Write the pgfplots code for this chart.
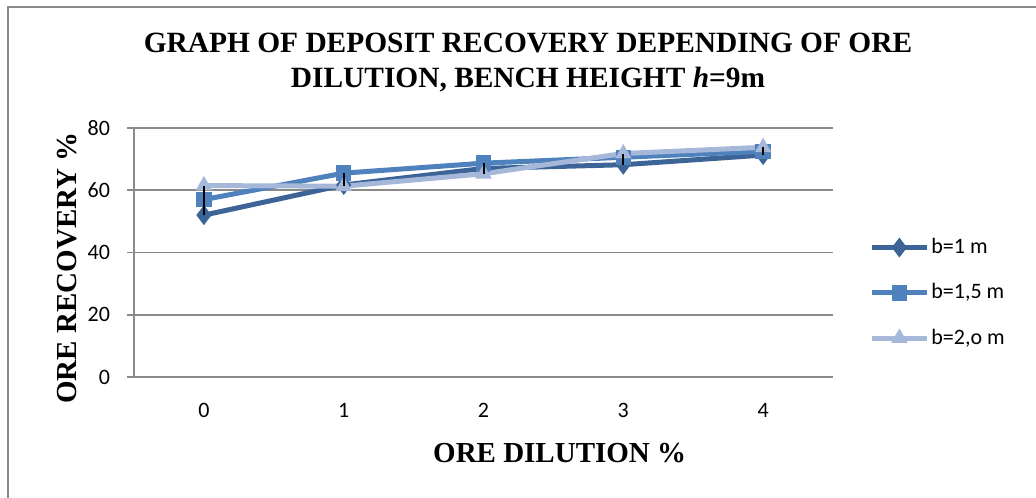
\documentclass[border=0pt]{standalone}
\usepackage{fontspec}
\setmainfont{Liberation Serif}
\newfontfamily\calfont{Carlito}
\usepackage{pgfplots}
\pgfplotsset{compat=1.18}
\definecolor{sA}{HTML}{3C6497}
\definecolor{sB}{HTML}{4F81BD}
\definecolor{sC}{HTML}{A5B8DA}
\definecolor{gridc}{HTML}{8A8A8A}
\begin{document}
\begin{tikzpicture}
\useasboundingbox (-67pt,-60pt) rectangle (451pt,188.5pt);
\draw[gridc, line width=1pt] (-63pt,-61pt) -- (-63pt,185pt) -- (452pt,185pt);
\begin{axis}[
  at={(0,0)}, anchor=south west,
  scale only axis, width=349.5pt, height=124.5pt,
  xmin=-0.5, xmax=4.5, ymin=0, ymax=80,
  xtick={0,1,2,3,4}, ytick={0,20,40,60,80},
  axis x line*=bottom, axis y line*=left,
  axis line style={gridc, line width=0.9pt, -},
  ymajorgrids, grid style={gridc, line width=0.9pt},
  x tick style={draw=none}, y tick style={gridc, line width=0.9pt},
  tick align=outside, major tick length=3.5pt,
  ticklabel style={font=\calfont\fontsize{11}{13}\selectfont},
  /pgf/number format/assume math mode=true,
  yticklabel style={xshift=-5pt},
  xticklabel style={yshift=-6pt},
  xlabel={\fontsize{14.5}{16}\selectfont\bfseries ORE DILUTION \%},
  ylabel={\fontsize{14.5}{16}\selectfont\bfseries ORE RECOVERY \%},
  xlabel style={at={(axis description cs:0.609,-0.305)}, anchor=center},
  ylabel style={at={(axis description cs:-0.0959,0.438)}, anchor=center},
  clip=false,
  legend style={at={(367.5pt,65pt)}, anchor=north west, draw=none, fill=none,
    font=\calfont\fontsize{11}{13}\selectfont, row sep=11.5pt, inner sep=0pt,
    nodes={inner sep=1pt, anchor=west}, yshift=5.5pt},
  legend cell align=left,
  legend image code/.code={\draw[mark repeat=2,mark phase=2,#1] plot coordinates {(0pt,0pt) (13.75pt,0pt) (27.5pt,0pt)};},
]
\addplot[sA, line width=2.5pt, mark=diamond*, mark size=4.6pt, mark options={solid, line width=0.5pt}] coordinates {(0,52) (1,61.7) (2,67) (3,68.2) (4,71.3)};
\addlegendentry{b=1 m}
\addplot[sB, line width=2.5pt, mark=square*, mark size=3.6pt, mark options={solid, line width=0.5pt}] coordinates {(0,57) (1,65.5) (2,68.7) (3,70.6) (4,72.5)};
\addlegendentry{b=1,5 m}
\addplot[sC, line width=2.5pt, mark=triangle*, mark size=4.3pt, mark options={solid, line width=0.5pt}] coordinates {(0,61.5) (1,61.3) (2,65.3) (3,71.8) (4,73.8)};
\addlegendentry{b=2,o m}
\node[align=center, font=\fontsize{14.7}{17.5}\selectfont\bfseries] at (197pt,157.25pt) {GRAPH OF DEPOSIT RECOVERY DEPENDING OF ORE\\DILUTION, BENCH HEIGHT \textit{h}=9m};
\end{axis}
\begin{axis}[
  at={(0,0)}, anchor=south west,
  scale only axis, width=349.5pt, height=124.5pt,
  xmin=-0.5, xmax=4.5, ymin=0, ymax=80,
  hide axis, clip=false,
  hl/.style={black, line width=1pt, no markers},
]
\addplot[hl] coordinates {(0,52) (0,61.5)};
\addplot[hl] coordinates {(1,61.3) (1,65.5)};
\addplot[hl] coordinates {(2,65.3) (2,68.7)};
\addplot[hl] coordinates {(3,68.2) (3,71.8)};
\addplot[hl] coordinates {(4,71.3) (4,73.8)};
\end{axis}
\end{tikzpicture}
\end{document}
